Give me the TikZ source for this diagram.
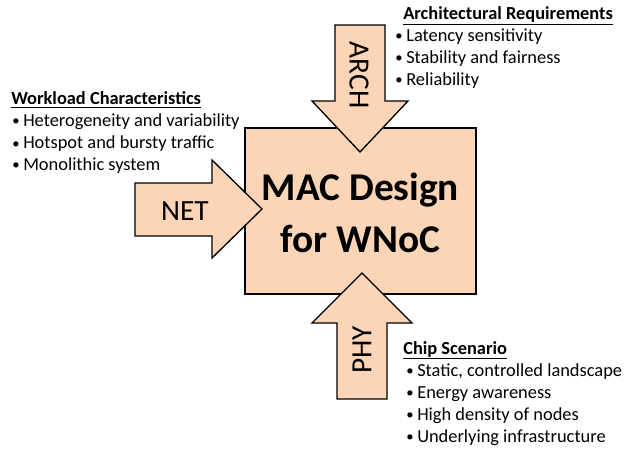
\documentclass[tikz,border=0pt]{standalone}
\usepackage{fontspec}
\setmainfont{Carlito}
\definecolor{peach}{HTML}{FBD5B5}
\tikzset{
  block/.style={draw=black, fill=peach, line width=1pt, line join=miter},
  heading/.style={font=\fontsize{13.8}{16}\selectfont\bfseries, anchor=base west, inner sep=0pt},
  item/.style={font=\fontsize{13.8}{16}\selectfont, anchor=base west, inner sep=0pt},
  dot/.style={font=\fontsize{11}{16}\selectfont, anchor=base west, inner sep=0pt},
  tag/.style={font=\fontsize{22}{24}\selectfont, inner sep=0pt}
}
\begin{document}
\begin{tikzpicture}[x=0.75pt, y=-0.75pt]
  \useasboundingbox (0,0) rectangle (624,449);
  % central block
  \draw[block] (245,128) rectangle (476,294);
  \node[font=\fontsize{29.5}{39}\selectfont\bfseries, align=center] (mac) at (360.5,213) {MAC Design\\for WNoC};

  % arrow from top
  \draw[block] (335,25) -- (385,25) -- (385,101) -- (408,101) -- (360,152)
    -- (312,101) -- (335,101) -- cycle;
  \node[tag, rotate=-90] (arch) at (359,75) {ARCH};

  % arrow from left
  \draw[block] (135,183) -- (212,183) -- (212,160) -- (262,209) -- (212,258)
    -- (212,236) -- (135,236) -- cycle;
  \node[tag] (net) at (185,211) {NET};

  % arrow from bottom
  \draw[block] (337,399) -- (387,399) -- (387,323) -- (412,323) -- (362,273)
    -- (312,323) -- (337,323) -- cycle;
  \node[tag, rotate=90] (phy) at (362,350) {PHY};

  % lists
  \node[heading] (archhead) at (403,20) {\underline{Architectural Requirements}};
  \foreach \t [count=\i] in {Latency sensitivity, Stability and fairness, Reliability} {
    \node[dot] (archb\i) at (395,19+22*\i) {\textbullet};
    \node[item] (archi\i) at (406,20+22*\i) {\t};
  }

  \node[heading] (workhead) at (11,105) {\underline{Workload Characteristics}};
  \foreach \t [count=\i] in {Heterogeneity and variability, Hotspot and bursty traffic, Monolithic system} {
    \node[dot] (workb\i) at (12,104+22*\i) {\textbullet};
    \node[item] (worki\i) at (23,105+22*\i) {\t};
  }

  \node[heading] (chiphead) at (403,354) {\underline{Chip Scenario}};
  \foreach \t [count=\i] in {{Static, controlled landscape}, Energy awareness, High density of nodes, Underlying infrastructure} {
    \node[dot] (chipb\i) at (406,353+22*\i) {\textbullet};
    \node[item] (chipi\i) at (417,354+22*\i) {\t};
  }
\end{tikzpicture}
\end{document}
